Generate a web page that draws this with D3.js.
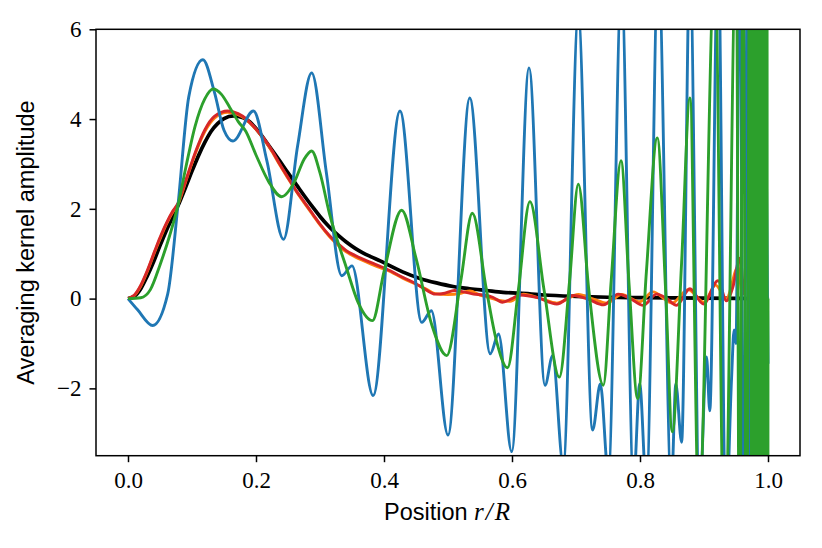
<!DOCTYPE html>
<html>
<head>
<meta charset="utf-8">
<script src="https://cdn.jsdelivr.net/npm/d3@7"></script>
<style>
  body { margin: 0; background: #fff; }
  .tick text { font-family: "Liberation Serif", serif; font-size: 23px; fill: #000; }
  .tick line { stroke: #000; stroke-width: 1.5; }
  .kernel { fill: none; stroke-linejoin: round; }
</style>
</head>
<body>
<div id="chart"></div>
<script>
// tick labels
const xTicks = [0, 0.2, 0.4, 0.6, 0.8, 1.0]
const yTicks = [-2, 0, 2, 4, 6]

// target kernel (black)
const targetKernel = [[0,0],[0.01,0.05],[0.02,0.22],[0.03,0.5],[0.04,0.82],[0.05,1.18],[0.06,1.52],[0.07,1.82],[0.08,2.13],[0.09,2.48],[0.1,2.84],[0.11,3.18],[0.12,3.48],[0.13,3.73],[0.14,3.9],[0.15,4.01],[0.165,4.07],[0.18,4.03],[0.19,3.94],[0.2,3.79],[0.21,3.61],[0.22,3.41],[0.237,3.07],[0.25,2.8],[0.263,2.54],[0.276,2.28],[0.289,2.03],[0.3,1.83],[0.315,1.59],[0.33,1.39],[0.341,1.26],[0.355,1.12],[0.367,1.02],[0.38,0.93],[0.394,0.84],[0.404,0.77],[0.43,0.59],[0.456,0.45],[0.482,0.35],[0.508,0.27],[0.534,0.22],[0.56,0.18],[0.586,0.14],[0.612,0.12],[0.65,0.08],[0.7,0.05],[0.75,0.03],[0.8,0.02],[0.9,0.01],[1.0,0]]

// blue
const blueKernel = [[0,0],[0.015,-0.25],[0.0385,-0.6],[0.062,0.1],[0.078,2.07],[0.095,4.5],[0.117,5.32],[0.135,4.6],[0.15,3.75],[0.164,3.51],[0.196,4.18],[0.217,3.07],[0.243,1.32],[0.265,3.4],[0.287,5.03],[0.31,2.8],[0.334,0.51],[0.35,0.73],[0.383,-2.16],[0.425,4.18],[0.459,-0.53],[0.474,-0.27],[0.5,-3.04],[0.534,4.47],[0.566,-1.23],[0.579,-0.79],[0.5995,-3.41],[0.6266,5.14],[0.6516,-1.93],[0.6635,-1.27],[0.68,-3.7],[0.7036,6.3],[0.726,-2.93],[0.738,-1.9],[0.7505,-3.9],[0.771,7.0],[0.79,-4.1],[0.7995,-1.9],[0.81,-4.2],[0.8286,7.5],[0.849,-4.2],[0.856,-1.9],[0.865,-3.2],[0.878,7.5],[0.893,-4.5],[0.904,-1.3],[0.909,-2.5],[0.922,8],[0.934,-5],[0.943,-1.8],[0.947,-0.7],[0.95,-1.0],[0.956,9],[0.962,-6],[0.968,8],[0.974,-6],[0.981,9],[0.988,-6],[0.994,6],[1.0,-1.45]]

// orange
const orangeKernel = [[0,0],[0.01,0.07],[0.02,0.28],[0.03,0.6],[0.042,1.05],[0.05,1.33],[0.06,1.66],[0.07,1.93],[0.078,2.1],[0.09,2.6],[0.106,3.26],[0.12,3.72],[0.135,4.02],[0.156,4.15],[0.172,4.1],[0.185,3.99],[0.2,3.77],[0.211,3.58],[0.225,3.28],[0.237,2.98],[0.25,2.68],[0.263,2.39],[0.276,2.12],[0.289,1.86],[0.3,1.64],[0.315,1.38],[0.33,1.17],[0.341,1.04],[0.355,0.93],[0.367,0.85],[0.38,0.77],[0.394,0.69],[0.404,0.64],[0.43,0.45],[0.45,0.32],[0.465,0.22],[0.48,0.11],[0.5,0.09],[0.52,0.12],[0.534,0.17],[0.55,0.08],[0.565,0.02],[0.58,-0.04],[0.597,-0.06],[0.618,0.1],[0.645,0.0],[0.67,-0.1],[0.704,0.09],[0.725,0.0],[0.748,-0.1],[0.771,0.09],[0.8,-0.07],[0.82,0.15],[0.85,-0.1],[0.875,0.2],[0.9,-0.08],[0.918,0.3],[0.935,0.0],[0.953,0.7],[0.96,0.1],[0.967,0.6],[0.975,0.0],[0.985,0.3],[1.0,0]]

// red
const redKernel = [[0,0],[0.01,0.08],[0.02,0.3],[0.03,0.62],[0.042,1.07],[0.05,1.36],[0.06,1.68],[0.07,1.95],[0.078,2.12],[0.09,2.62],[0.106,3.29],[0.12,3.76],[0.135,4.06],[0.156,4.18],[0.172,4.12],[0.185,4.0],[0.2,3.78],[0.211,3.59],[0.225,3.3],[0.237,3.0],[0.25,2.7],[0.263,2.4],[0.276,2.14],[0.289,1.88],[0.3,1.66],[0.315,1.4],[0.33,1.2],[0.341,1.07],[0.355,0.96],[0.367,0.88],[0.38,0.8],[0.394,0.72],[0.404,0.66],[0.43,0.47],[0.45,0.33],[0.465,0.2],[0.48,0.1],[0.495,0.12],[0.51,0.18],[0.525,0.15],[0.54,0.1],[0.555,0.08],[0.57,0.03],[0.585,-0.08],[0.6,0.0],[0.613,0.08],[0.64,0.02],[0.67,-0.12],[0.696,0.07],[0.72,-0.02],[0.743,-0.14],[0.766,0.1],[0.785,0.0],[0.805,-0.15],[0.826,0.1],[0.842,0.0],[0.857,-0.15],[0.878,0.22],[0.899,-0.12],[0.922,0.4],[0.935,-0.05],[0.945,0.25],[0.956,0.9],[0.961,0.1],[0.966,0.8],[0.972,0.0],[0.98,0.5],[0.99,-0.3],[1.0,-8]]

// green
const greenKernel = [[0,0],[0.02,0.02],[0.035,0.2],[0.05,0.75],[0.065,1.4],[0.078,2.07],[0.09,2.9],[0.105,3.85],[0.12,4.45],[0.133,4.67],[0.146,4.55],[0.159,4.26],[0.172,3.95],[0.184,3.73],[0.2,3.2],[0.22,2.6],[0.24,2.27],[0.26,2.6],[0.275,3.1],[0.287,3.29],[0.3,2.8],[0.315,1.88],[0.341,0.7],[0.36,-0.1],[0.382,-0.49],[0.4,0.6],[0.4276,1.97],[0.45,0.9],[0.475,-0.6],[0.498,-1.27],[0.52,0.4],[0.538,1.9],[0.56,0.2],[0.575,-0.9],[0.593,-1.54],[0.61,0.2],[0.628,2.16],[0.65,0.2],[0.674,-1.75],[0.69,0.4],[0.7036,2.55],[0.72,0.2],[0.7427,-1.93],[0.755,0.4],[0.7703,3.07],[0.783,0.3],[0.7964,-2.23],[0.81,0.6],[0.827,3.58],[0.84,0.2],[0.8505,-2.97],[0.865,0.8],[0.878,4.47],[0.892,-4.8],[0.917,7.5],[0.932,-6],[0.9505,8],[0.9555,-7],[0.961,8],[0.9665,-7],[0.9715,9],[0.9755,-8],[0.977,12],[0.9785,-12],[0.98,14],[0.9815,-14],[0.983,16],[0.9845,-16],[0.986,18],[0.9875,-18],[0.989,20],[0.9905,-20],[0.992,22],[0.9935,-22],[0.995,25],[0.9965,-25],[0.998,28],[0.9995,-28],[1.0,0]]

// drawing order: last one ends up on top
const series = [
  {data: targetKernel, color: "#000000", width: 3.7},
  {data: orangeKernel, color: "#ff7f0e", width: 2.9},
  {data: redKernel, color: "#d62728", width: 2.9},
  {data: blueKernel, color: "#1f77b4", width: 2.9},
  {data: greenKernel, color: "#2ca02c", width: 2.9}
]

const W = 822, H = 548
const margin = {top: 29.3, right: 22, bottom: 92.3, left: 96}
const width = W - margin.left - margin.right
const height = H - margin.top - margin.bottom

const svg = d3.select("#chart").append("svg")
  .attr("width", W)
  .attr("height", H)

const x = d3.scaleLinear().domain([-0.05, 1.05]).range([0, width])
const y = d3.scaleLinear().domain([-3.5, 6]).range([height, 0])

const g = svg.append("g")
  .attr("transform", "translate(" + margin.left + "," + margin.top + ")")

g.append("clipPath").attr("id", "plot-clip")
  .append("rect")
  .attr("width", width).attr("height", height)

// lines
const line = d3.line()
  .x(d => x(d[0]))
  .y(d => y(d[1]))
  .curve(d3.curveMonotoneX)

g.append("g")
  .attr("clip-path", "url(#plot-clip)")
  .selectAll("path")
  .data(series)
  .join("path")
  .attr("class", "kernel")
  .attr("d", d => line(d.data))
  .attr("stroke", d => d.color)
  .attr("stroke-width", d => d.width)

// axes
const xAxis = d3.axisBottom(x)
  .tickValues(xTicks)
  .tickFormat(d3.format(".1f"))
  .tickSize(6.5)
  .tickPadding(9.5)
  .tickSizeOuter(0)

const yAxis = d3.axisLeft(y)
  .tickValues(yTicks)
  .tickFormat(d => d < 0 ? "\u2212" + Math.abs(d) : d)
  .tickSize(6.5)
  .tickPadding(8)
  .tickSizeOuter(0)

g.append("g")
  .attr("transform", "translate(0," + height + ")")
  .call(xAxis)
  .call(s => s.select(".domain").remove())

g.append("g")
  .call(yAxis)
  .call(s => s.select(".domain").remove())

// frame
g.append("rect")
  .attr("width", width).attr("height", height)
  .attr("fill", "none")
  .attr("stroke", "#000")
  .attr("stroke-width", 1.5)

// axis labels
const xLabel = svg.append("text")
  .attr("x", margin.left + x(0.5))
  .attr("y", 519.5)
  .attr("text-anchor", "middle")
  .style("font-size", "23.5px")
xLabel.append("tspan")
  .style("font-family", "'Liberation Sans', sans-serif")
  .text("Position ")
xLabel.append("tspan")
  .style("font-family", "'Liberation Serif', serif")
  .style("font-style", "italic")
  .style("font-size", "25px")
  .style("letter-spacing", "2px")
  .text("r/R")

svg.append("text")
  .attr("transform", "translate(33.5," + (margin.top + height / 2) + ") rotate(-90)")
  .attr("text-anchor", "middle")
  .style("font-family", "'Liberation Sans', sans-serif")
  .style("font-size", "23.5px")
  .text("Averaging kernel amplitude")
</script>
</body>
</html>
